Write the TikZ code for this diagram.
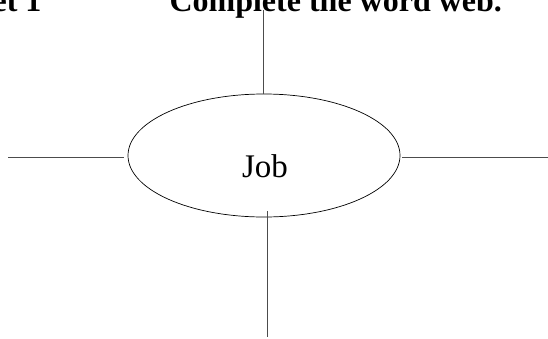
\documentclass[tikz,border=0pt]{standalone}
\usepackage{fontspec}
\setmainfont{Liberation Serif}
\usetikzlibrary{shapes.geometric}

\begin{document}
\begin{tikzpicture}[x=1pt, y=1pt, spoke/.style={line width=0.9pt, black!70}]
    \useasboundingbox (0,0) rectangle (548,338);

    \node[anchor=base east, font=\fontsize{32}{38}\selectfont\bfseries] (sheet) at (45,326) {Sheet 1};
    \node[anchor=base west, font=\fontsize{32}{38}\selectfont\bfseries] (task) at (166,326) {Complete the word web.};

    \node[draw, ellipse, line width=0.7pt, inner sep=0pt, minimum width=272pt, minimum height=123pt] (job) at (264,182.5) {};
    \node[anchor=base, font=\fontsize{33}{40}\selectfont] (word) at (265,161) {Job};

    \coordinate (n1) at (263,328);
    \coordinate (n2) at (263,244);
    \coordinate (w1) at (8,181);
    \coordinate (w2) at (124,181);
    \coordinate (e1) at (402,181);
    \coordinate (e2) at (548,181);
    \coordinate (s1) at (267,127);
    \coordinate (s2) at (267,1);

    \draw[spoke] (n1) -- (n2);
    \draw[spoke] (w1) -- (w2);
    \draw[spoke] (e1) -- (e2);
    \draw[spoke] (s1) -- (s2);
\end{tikzpicture}
\end{document}
